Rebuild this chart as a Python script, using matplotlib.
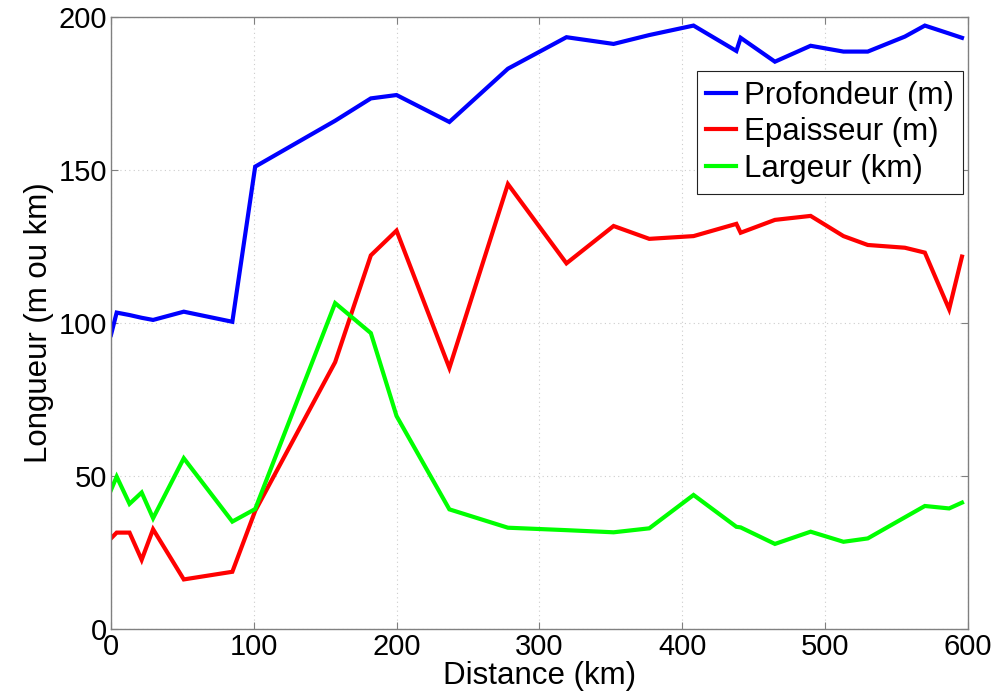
import matplotlib
matplotlib.use("Agg")
import matplotlib.pyplot as plt

# distances along the profile (km)
distance = [0, 4, 13, 21.5, 29.5, 51, 85, 101, 157, 182, 200, 237, 278, 319,
            352, 377, 408, 438, 441, 465, 490, 513, 530, 556, 570, 587, 596]

profondeur = [96, 103.3, 102.5, 101.6, 100.9, 103.6, 100.3, 151, 166, 173.3,
              174.4, 165.6, 183, 193.3, 191.1, 194, 197.1, 188.8, 193.1, 185.3,
              190.5, 188.6, 188.6, 193.5, 197.1, 194.5, 193.1]

epaisseur = [29.5, 31.4, 31.4, 22.5, 32.5, 16.1, 18.6, 38.5, 87.1, 122, 130.1,
             85.2, 145.3, 119.4, 131.6, 127.4, 128.3, 132.3, 129.4, 133.6,
             134.9, 128.3, 125.4, 124.5, 122.9, 104.4, 121.6]

largeur = [45.3, 49.7, 40.8, 44.5, 36.1, 55.7, 35, 39.1, 106.4, 96.6, 69.5,
           39.0, 33.0, 32.2, 31.5, 32.8, 43.7, 33.3, 33.1, 27.7, 31.7, 28.4,
           29.5, 36.4, 40.1, 39.3, 41.2]

labels = ["Profondeur (m)", "Epaisseur (m)", "Largeur (km)"]
colors = ["#0000ff", "#ff0000", "#00ff00"]

plt.rcParams["font.family"] = ["Liberation Sans", "DejaVu Sans"]
tick_fs = 21
label_fs = 22.5

fig = plt.figure(figsize=(9.97, 6.93), dpi=100)
ax = fig.add_axes([0.1113, 0.0928, 0.9706 - 0.1113, 0.9759 - 0.0928])

for y, lab, c in zip([profondeur, epaisseur, largeur], labels, colors):
    ax.plot(distance, y, color=c, lw=3, label=lab, solid_joinstyle="miter")

ax.set_xlim(0, 600)
ax.set_ylim(0, 200)
ax.set_xticks(range(0, 601, 100))
ax.set_yticks(range(0, 201, 50))
ax.grid(True, color="#cccccc", linestyle=(0, (1, 3)), linewidth=0.8)
ax.tick_params(direction="in", top=True, right=True, labelsize=tick_fs,
               color="#808080", length=5, pad=3)
for s in ax.spines.values():
    s.set_color("#808080")
    s.set_linewidth(1.0)

ax.set_xlabel("Distance (km)", fontsize=label_fs, labelpad=0)
ax.set_ylabel("Longueur (m ou km)", fontsize=label_fs, labelpad=3)

leg = ax.legend(loc="upper right", bbox_to_anchor=(0.9945, 0.911),
                fontsize=label_fs, fancybox=False, framealpha=1,
                edgecolor="#222222", handlelength=0.95, handletextpad=0.25,
                borderpad=0.3, labelspacing=0.22, borderaxespad=0)
leg.get_frame().set_linewidth(0.8)

fig.savefig("out.png", dpi=100)
